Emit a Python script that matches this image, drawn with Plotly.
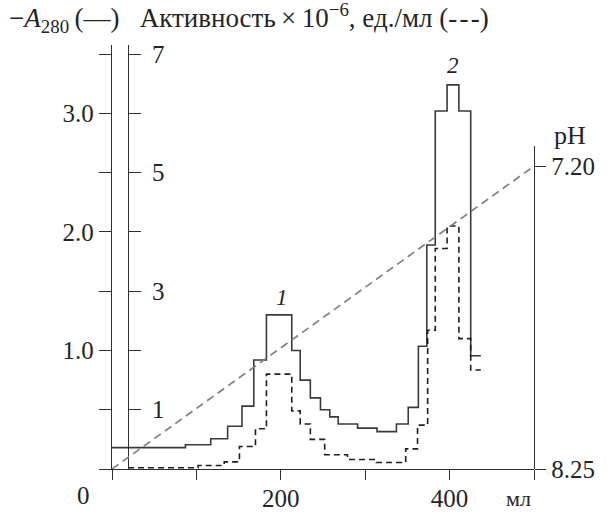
import plotly.graph_objects as go

# --- data -------------------------------------------------------------
# A280 elution profile (step histogram): fraction start volumes (ml) and values
a280_ml = [0, 87, 117, 137, 154, 168, 183, 213, 223, 235, 247, 258, 268, 291,
           314, 337, 351, 363, 373, 383, 397, 411, 425, 437]
a280_val = [0.18, 0.205, 0.255, 0.36, 0.53, 0.92, 1.30, 1.00, 0.75, 0.60, 0.50,
            0.44, 0.38, 0.345, 0.315, 0.38, 0.52, 1.035, 1.89, 3.02, 3.24, 3.02,
            0.955]

# Activity x 10^-6, units/ml (step histogram)
act_ml = [19, 102, 133, 151, 170, 183, 213, 223, 235, 252, 279, 313, 348,
          362, 374, 383, 397, 411, 425, 437]
act_val = [0.02, 0.06, 0.12, 0.38, 0.68, 1.60, 0.98, 0.76, 0.50, 0.24, 0.16,
           0.11, 0.34, 0.74, 2.34, 3.72, 4.10, 2.20, 1.67]

# pH gradient
ph_ml = [0, 500]
ph_val = [8.25, 7.20]

# tick labels
a280_ticks = [1.0, 2.0, 3.0]
a280_ticktext = ["1.0", "2.0", "3.0"]
act_ticks = [1, 3, 5, 7]
ph_ticks = [7.20, 8.25]
ph_ticktext = ["7.20", "8.25"]
x_ticks = [200, 400]

peak_labels = ["1", "2"]
peak_ml = [201, 404.5]
peak_y = [1.45, 3.40]

FONT = "Liberation Serif"
TXT = "#252525"
AX = "#2e2e2e"
CLEAR = "rgba(0,0,0,0)"

fig = go.Figure()

fig.add_trace(go.Scatter(
    x=a280_ml, y=a280_val + [a280_val[-1]], mode="lines", line_shape="hv",
    line=dict(color="#3a3a3a", width=1.6), xaxis="x", yaxis="y",
    showlegend=False, hoverinfo="skip"))

fig.add_trace(go.Scatter(
    x=act_ml, y=act_val + [act_val[-1]], mode="lines", line_shape="hv",
    line=dict(color="#1e1e1e", width=1.6, dash="6px,4px"), xaxis="x", yaxis="y2",
    showlegend=False, hoverinfo="skip"))

fig.add_trace(go.Scatter(
    x=ph_ml, y=ph_val, mode="lines",
    line=dict(color="#808080", width=1.7, dash="8px,5px"), xaxis="x", yaxis="y3",
    showlegend=False, hoverinfo="skip"))

# plot area: x 112..545 px, y 45..486 px
A_TOP = 441 / 123.3
TF = dict(family=FONT, size=25, color=TXT)

fig.update_layout(
    width=607, height=524,
    margin=dict(l=112, r=62, t=45, b=38, pad=0),
    paper_bgcolor="white", plot_bgcolor=CLEAR,
    font=dict(family=FONT, size=25, color=TXT),
    showlegend=False,
    xaxis=dict(
        range=[0, 500], domain=[0, 1], anchor="y",
        showline=True, linecolor=AX, linewidth=1.4, mirror=False,
        showgrid=False, zeroline=False,
        tickmode="array", tickvals=x_ticks, ticktext=[str(v) for v in x_ticks],
        ticks="outside", ticklen=10, tickwidth=1.3, tickcolor=AX,
        ticklabelstandoff=-3,
        minor=dict(dtick=100, tick0=0, ticks="outside", ticklen=10,
                   tickwidth=1.3, tickcolor=AX, showgrid=False),
        tickfont=TF,
    ),
    yaxis=dict(
        range=[0, A_TOP], domain=[0, 1], anchor="x", side="left",
        showline=True, linecolor=AX, linewidth=1.4,
        showgrid=False, zeroline=False,
        tickmode="array", tickvals=a280_ticks, ticktext=a280_ticktext,
        ticks="outside", ticklen=12, tickwidth=1.3, tickcolor=AX,
        minor=dict(dtick=0.5, tick0=0, ticks="outside", ticklen=12,
                   tickwidth=1.3, tickcolor=AX, showgrid=False),
        tickfont=TF,
    ),
    yaxis2=dict(
        range=[0, 2 * A_TOP], overlaying="y", anchor="free", position=0.0376,
        side="right",
        showline=True, linecolor=AX, linewidth=1.4,
        showgrid=False, zeroline=False,
        tickmode="array", tickvals=act_ticks, ticktext=[str(v) for v in act_ticks],
        ticks="outside", ticklen=12, tickwidth=1.3, tickcolor=AX,
        ticklabelstandoff=6,
        minor=dict(dtick=1, tick0=0, ticks="outside", ticklen=12,
                   tickwidth=1.3, tickcolor=AX, showgrid=False),
        tickfont=TF,
    ),
    yaxis3=dict(
        range=[8.25, 8.25 - 336 * (1.05 / 315)], domain=[0, 336 / 441],
        anchor="x", side="right",
        showline=True, linecolor=AX, linewidth=1.4,
        showgrid=False, zeroline=False,
        tickmode="array", tickvals=ph_ticks, ticktext=ph_ticktext,
        ticks="outside", ticklen=11, tickwidth=1.3, tickcolor=AX,
        tickfont=TF,
    ),
)

W, H = 433.0, 441.0
def px(xp):
    return (xp - 112) / W
def py(yp):
    return (486 - yp) / H

ann = [
    dict(x=px(4), y=py(17), xref="paper", yref="paper", xanchor="left",
         yanchor="middle", showarrow=False,
         text="\u2212<i>A</i><sub>280</sub>\u2009(\u2014)\u2002 Активность\u2009×\u200910<sup>\u22126</sup>, ед./мл (-\u200a-\u200a-)",
         font=dict(family=FONT, size=27, color=TXT)),
    dict(x=px(582), y=py(139), xref="paper", yref="paper", xanchor="center",
         yanchor="middle", showarrow=False, text="pH",
         font=dict(family=FONT, size=26, color=TXT)),
    dict(x=px(83), y=py(514), xref="paper", yref="paper", xanchor="center",
         yanchor="middle", showarrow=False, text="0",
         font=dict(family=FONT, size=25, color=TXT)),
    dict(x=px(529), y=py(517), xref="paper", yref="paper", xanchor="center",
         yanchor="middle", showarrow=False, text="мл",
         font=dict(family=FONT, size=22, color=TXT)),
]
for t, xm, ym in zip(peak_labels, peak_ml, peak_y):
    ann.append(dict(x=xm, y=ym, xref="x", yref="y", xanchor="center",
                    yanchor="middle", showarrow=False, text="<i>%s</i>" % t,
                    font=dict(family=FONT, size=23, color=TXT)))
fig.update_layout(annotations=ann)

fig.write_html("out.html", config={"displayModeBar": False},
               post_script="document.body.style.margin='0px';")
